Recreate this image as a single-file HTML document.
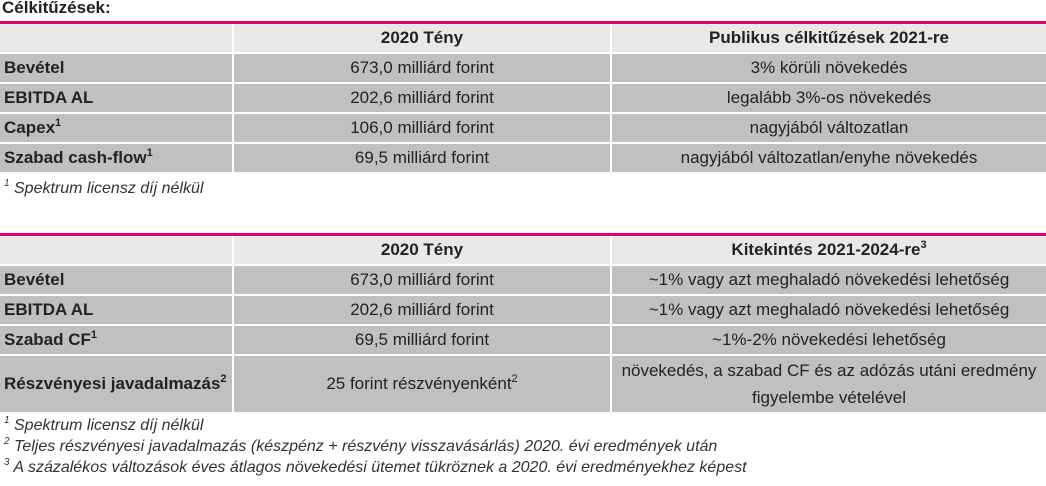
<!DOCTYPE html>
<html><head><meta charset="utf-8"><style>
body{margin:0;width:1046px;height:486px;background:#fff;font-family:"Liberation Sans","DejaVu Sans",sans-serif;font-size:17px;color:#222;position:relative;overflow:hidden}
.title{position:absolute;left:2px;top:-2px;font-weight:bold;font-size:17px;line-height:20px}
.line{position:absolute;left:0;width:1046px;height:3px;background:#e20074}
table{position:absolute;left:0;width:1046px;border-collapse:collapse;table-layout:fixed}
td{padding:0 4px;border:2px solid #fff;border-top:0;background:#c0c0c0;text-align:center;white-space:nowrap;line-height:20px}
td:first-child{text-align:left;font-weight:bold;border-left:0}
td:last-child{border-right:0}
tr.h td{background:#e8e8e8;font-weight:bold}
sup{font-size:11px;line-height:0;vertical-align:7px}
.fn{position:absolute;left:4px;font-style:italic;font-size:16px;color:#333;line-height:21px}
.fn sup{font-size:10px}
</style></head><body>
<div class="title">Célkitűzések:</div>
<div class="line" style="top:21px"></div>
<table style="top:24px">
<colgroup><col style="width:233px"><col style="width:378px"><col></colgroup>
<tr class="h" style="height:29px"><td></td><td>2020 Tény</td><td>Publikus célkitűzések 2021-re</td></tr>
<tr style="height:30px"><td>Bevétel</td><td>673,0 milliárd forint</td><td>3% körüli növekedés</td></tr>
<tr style="height:30px"><td>EBITDA AL</td><td>202,6 milliárd forint</td><td>legalább 3%-os növekedés</td></tr>
<tr style="height:30px"><td>Capex<sup>1</sup></td><td>106,0 milliárd forint</td><td>nagyjából változatlan</td></tr>
<tr style="height:30px"><td>Szabad cash-flow<sup>1</sup></td><td>69,5 milliárd forint</td><td>nagyjából változatlan/enyhe növekedés</td></tr>
</table>
<div class="fn" style="top:178px"><sup>1</sup> Spektrum licensz díj nélkül</div>
<div class="line" style="top:233px"></div>
<table style="top:236px">
<colgroup><col style="width:233px"><col style="width:378px"><col></colgroup>
<tr class="h" style="height:29px"><td></td><td>2020 Tény</td><td>Kitekintés 2021-2024-re<sup>3</sup></td></tr>
<tr style="height:30px"><td>Bevétel</td><td>673,0 milliárd forint</td><td>~1% vagy azt meghaladó növekedési lehetőség</td></tr>
<tr style="height:30px"><td>EBITDA AL</td><td>202,6 milliárd forint</td><td>~1% vagy azt meghaladó növekedési lehetőség</td></tr>
<tr style="height:30px"><td>Szabad CF<sup>1</sup></td><td>69,5 milliárd forint</td><td>~1%-2% növekedési lehetőség</td></tr>
<tr style="height:58px"><td>Részvényesi javadalmazás<sup>2</sup></td><td>25 forint részvényenként<sup>2</sup></td><td style="line-height:27px">növekedés, a szabad CF és az adózás utáni eredmény<br>figyelembe vételével</td></tr>
</table>
<div class="fn" style="top:415px"><sup>1</sup> Spektrum licensz díj nélkül<br><sup>2</sup> Teljes részvényesi javadalmazás (készpénz + részvény visszavásárlás) 2020. évi eredmények után<br><sup>3</sup> A százalékos változások éves átlagos növekedési ütemet tükröznek a 2020. évi eredményekhez képest</div>
</body></html>
